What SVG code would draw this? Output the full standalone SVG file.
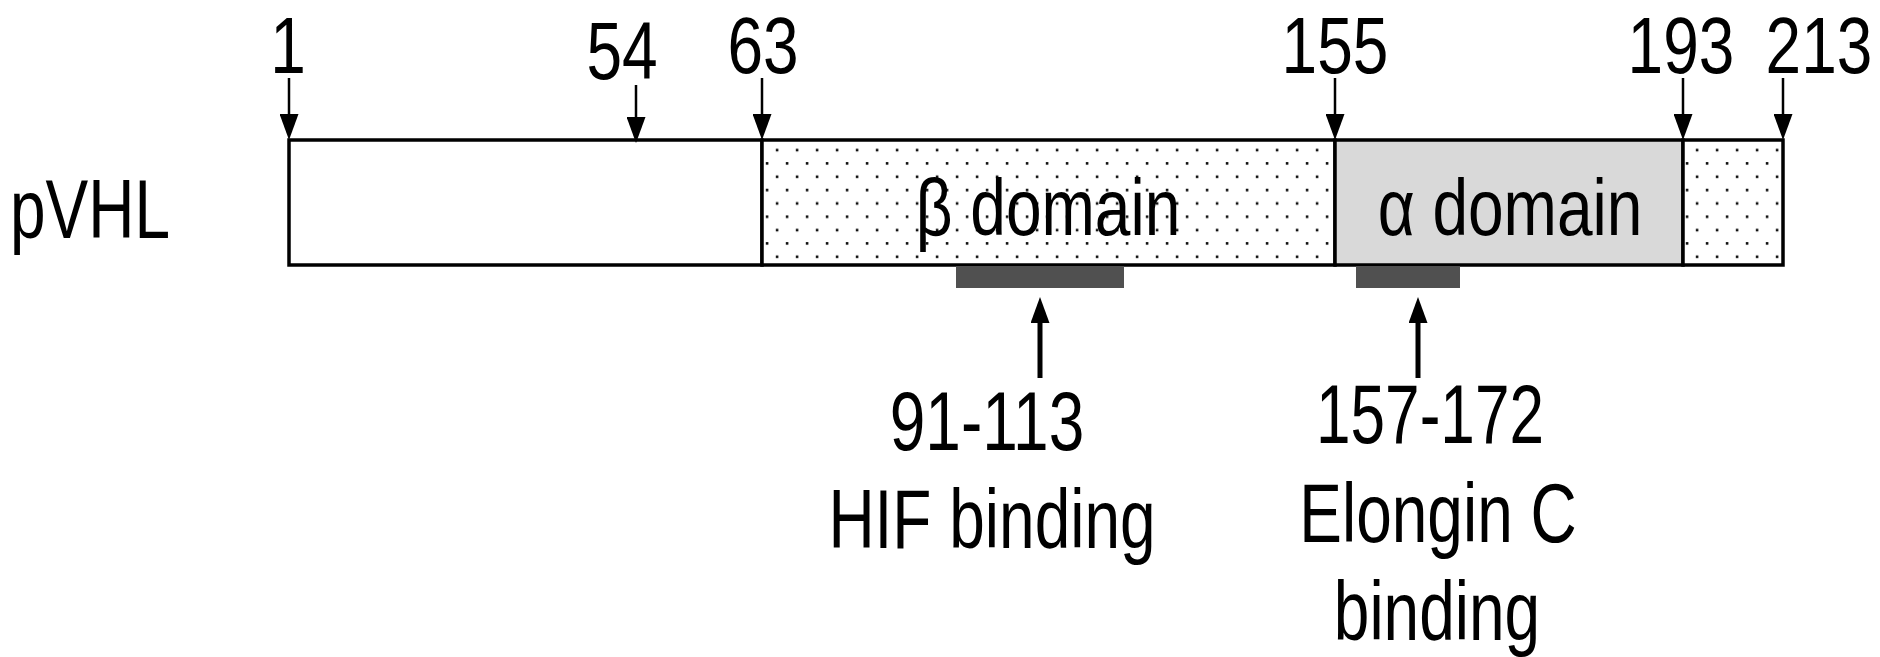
<svg xmlns="http://www.w3.org/2000/svg" width="1880" height="657" viewBox="0 0 1880 657">
<style>
text{font-family:"Liberation Sans",Arial,sans-serif;font-size:64px;fill:#000;}
.c{text-anchor:middle;}
.box{stroke:#000;stroke-width:3.5;}
.arr{stroke:#000;stroke-width:2.5;fill:none;marker-end:url(#ah);}
.arrUp{stroke:#000;stroke-width:5;fill:none;marker-end:url(#ah);}
.bar{fill:#505050;}
</style>
<defs>
<marker id="ah" viewBox="0 0 26 19" refX="0" refY="9.5" markerWidth="26" markerHeight="19" markerUnits="userSpaceOnUse" orient="auto">
<path d="M0,0 L26,9.5 L0,19 Z" fill="#000"/>
</marker>
<pattern id="dots" patternUnits="userSpaceOnUse" x="767" y="143.3" width="20" height="26.67">
<rect x="8.8" y="5.5" width="2.6" height="2.6" fill="#111"/>
<rect x="-1.2" y="18.8" width="2.6" height="2.6" fill="#111"/>
<rect x="18.8" y="18.8" width="2.6" height="2.6" fill="#111"/>
</pattern>
</defs>
<rect width="1880" height="657" fill="#fff"/>

<g id="label-pVHL">
<text transform="translate(10,238) scale(1,1.29)">pVHL</text>
</g>

<g id="seg-nterm">
<rect class="box" x="289" y="140" width="473" height="125" fill="#fff"/>
</g>
<g id="seg-beta">
<rect x="762" y="140" width="573" height="125" fill="#fff"/>
<rect class="box" x="762" y="140" width="573" height="125" fill="url(#dots)"/>
<text class="c" transform="translate(1048,235) scale(1,1.25)">β domain</text>
</g>
<g id="seg-alpha">
<rect class="box" x="1335" y="140" width="348" height="125" fill="#d9d9d9"/>
<text class="c" transform="translate(1510,235) scale(1,1.25)">α domain</text>
</g>
<g id="seg-cterm">
<rect x="1683" y="140" width="100" height="125" fill="#fff"/>
<rect class="box" x="1683" y="140" width="100" height="125" fill="url(#dots)"/>
</g>

<g id="bar-hif"><rect class="bar" x="956" y="266" width="168" height="22"/></g>
<g id="bar-elongin"><rect class="bar" x="1356" y="266" width="104" height="22"/></g>

<g id="pos-labels">
<text class="c" transform="translate(288,73) scale(1,1.26)">1</text>
<text class="c" transform="translate(622,79) scale(1,1.27)">54</text>
<text class="c" transform="translate(763,73) scale(1,1.26)">63</text>
<text class="c" transform="translate(1335,73) scale(1,1.26)">155</text>
<text class="c" transform="translate(1681,73) scale(1,1.26)">193</text>
<text class="c" transform="translate(1819,73) scale(1,1.26)">213</text>
</g>

<g id="label-hif">
<text class="c" transform="translate(987,450) scale(1,1.29)">91-113</text>
<text class="c" transform="translate(992,548) scale(1,1.29)">HIF binding</text>
</g>
<g id="label-elongin">
<text class="c" transform="translate(1430,443) scale(1,1.29)" textLength="228" lengthAdjust="spacingAndGlyphs">157-172</text>
<text class="c" transform="translate(1438,542) scale(1,1.29)">Elongin C</text>
<text class="c" transform="translate(1437,640) scale(1,1.29)">binding</text>
</g>

<g id="connectors">
<line class="arr" x1="289" y1="78" x2="289" y2="114"/>
<line class="arr" x1="636" y1="85" x2="636" y2="117"/>
<line class="arr" x1="762" y1="78" x2="762" y2="114"/>
<line class="arr" x1="1335" y1="78" x2="1335" y2="114"/>
<line class="arr" x1="1683" y1="78" x2="1683" y2="114"/>
<line class="arr" x1="1783" y1="78" x2="1783" y2="114"/>
<line class="arrUp" x1="1040" y1="378" x2="1040" y2="323"/>
<line class="arrUp" x1="1418" y1="378" x2="1418" y2="323"/>
</g>
</svg>
